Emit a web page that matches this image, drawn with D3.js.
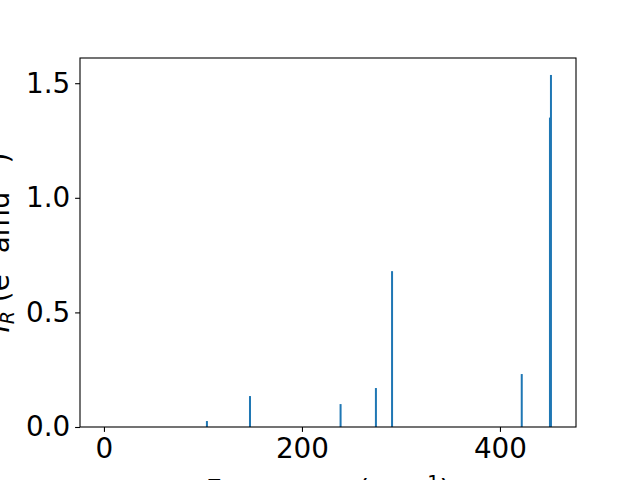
<!DOCTYPE html>
<html>
<head>
<meta charset="utf-8">
<script src="https://cdn.jsdelivr.net/npm/d3@7"></script>
<style>
  body { margin: 0; background: #fff; }
  svg { display: block; font-family: "DejaVu Sans", sans-serif; }
</style>
</head>
<body>
<svg id="chart" width="640" height="480"></svg>
<script>
// IR spectrum stick data
const freqs = [104, 147.5, 239, 274.7, 291, 422, 450.5, 451.5];
const intensities = [0.026, 0.135, 0.10, 0.17, 0.68, 0.231, 1.35, 1.536];
const xTicks = [0, 200, 400];
const yTicks = [0.0, 0.5, 1.0, 1.5];

const svg = d3.select("#chart"),
      margin = { top: 58, right: 64, bottom: 53, left: 80 },
      width = +svg.attr("width") - margin.left - margin.right,
      height = +svg.attr("height") - margin.top - margin.bottom,
      chart = svg.append("g").attr("transform", `translate(${margin.left},${margin.top})`);

const x = d3.scaleLinear().domain([-24.2, 476.8]).range([0, width]);
const y = d3.scaleLinear().domain([0, 1.61]).range([height, 0]);
const barW = 2;

chart.selectAll(".bar")
  .data(freqs.map((f, i) => ({ f, v: intensities[i] })))
  .join("rect")
  .attr("class", "bar")
  .attr("x", d => x(d.f) - barW / 2)
  .attr("y", d => y(d.v))
  .attr("width", barW)
  .attr("height", d => height - y(d.v))
  .attr("fill", "#1f77b4");

const xAxis = chart.append("g")
  .attr("transform", `translate(0,${height})`)
  .call(d3.axisBottom(x).tickValues(xTicks).tickFormat(d3.format("d")).tickSize(4.9).tickPadding(4.9));

const yAxis = chart.append("g")
  .call(d3.axisLeft(y).tickValues(yTicks).tickFormat(d3.format(".1f")).tickSize(4.9).tickPadding(4.9));

[xAxis, yAxis].forEach(g => {
  g.select(".domain").remove();
  g.selectAll("line").attr("stroke", "#000").attr("stroke-width", 1.1);
  g.selectAll("text")
    .attr("fill", "#000")
    .attr("font-size", "27.8px")
    .attr("font-family", "DejaVu Sans, sans-serif");
});
xAxis.selectAll("text").attr("dy", "0.76em");

// frame
chart.append("rect")
  .attr("width", width)
  .attr("height", height)
  .attr("fill", "none")
  .attr("stroke", "#000")
  .attr("stroke-width", 1.1);

// axis labels (cut by the figure edge, as in the original)
svg.append("text")
  .attr("x", margin.left + width / 2)
  .attr("y", 500)
  .attr("text-anchor", "middle")
  .attr("font-size", "27.8px")
  .html('Frequency (cm<tspan dy="-11" font-size="19px">\u22121</tspan><tspan dy="11">)</tspan>');

svg.append("text")
  .attr("transform", `translate(9,${margin.top + height / 2}) rotate(-90)`)
  .attr("text-anchor", "middle")
  .attr("font-size", "27.8px")
  .html('<tspan font-style="italic">I</tspan><tspan dy="5" font-size="19px" font-style="italic">R</tspan><tspan dy="-5"> (e</tspan><tspan dy="-11" font-size="19px">2</tspan><tspan dy="11"> amu</tspan><tspan dy="-11" font-size="19px">\u22121</tspan><tspan dy="11">)</tspan>');
</script>
</body>
</html>
